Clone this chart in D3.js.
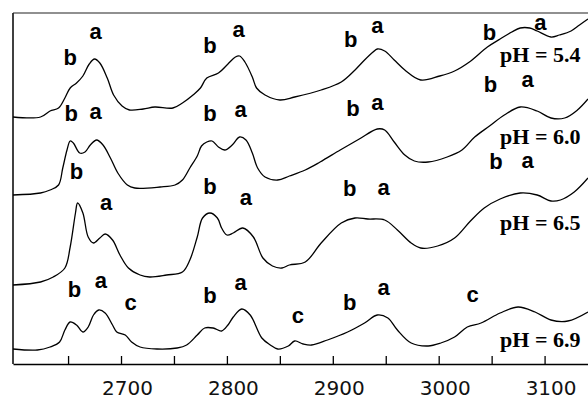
<!DOCTYPE html>
<html>
<head>
<meta charset="utf-8">
<script src="https://cdn.jsdelivr.net/npm/d3@7"></script>
<style>
  body { margin: 0; background: #fff; }
  .lbl { font-family: "Liberation Sans", Arial, sans-serif; font-weight: bold; font-size: 22px; }
  .ph { font-family: "Liberation Serif", "Times New Roman", serif; font-weight: bold; font-size: 22px; }
  .xaxis text { font-family: "DejaVu Sans", sans-serif; font-size: 20px; fill: #111; }
</style>
</head>
<body>
<div id="chart"></div>
<script>
var totWidth = 588;
var totHeight = 401;

//-- Spectra, [wavenumber, absorbance (offset)]
var pH54 = [[2598,2.47],[2624,2.47],[2633,2.53],[2641,2.56],[2647,2.66],[2652,2.76],[2658,2.81],[2664,2.88],
  [2670,3.00],[2675,3.05],[2680,3.01],[2687,2.86],[2693,2.69],[2701,2.58],[2708,2.54],[2721,2.55],[2732,2.57],
  [2749,2.56],[2758,2.61],[2768,2.69],[2775,2.76],[2781,2.86],[2792,2.91],[2801,3.00],[2808,3.07],[2812,3.08],
  [2817,3.02],[2824,2.87],[2828,2.76],[2836,2.69],[2850,2.64],[2864,2.67],[2889,2.74],[2908,2.82],[2921,2.94],
  [2930,3.04],[2938,3.12],[2942,3.15],[2949,3.13],[2958,3.04],[2968,2.94],[2983,2.84],[3001,2.88],[3015,2.93],
  [3029,3.02],[3046,3.17],[3058,3.25],[3069,3.32],[3077,3.36],[3086,3.36],[3093,3.33],[3106,3.27],[3114,3.29],
  [3125,3.33],[3133,3.39],[3141,3.45]];

var pH60 = [[2598,1.69],[2624,1.71],[2633,1.74],[2641,1.79],[2645,1.96],[2649,2.14],[2652,2.23],[2655,2.21],
  [2661,2.11],[2666,2.12],[2671,2.19],[2677,2.24],[2683,2.19],[2690,2.06],[2697,1.91],[2706,1.79],[2713,1.76],
  [2737,1.77],[2751,1.79],[2758,1.84],[2765,1.96],[2772,2.08],[2776,2.18],[2781,2.22],[2786,2.23],[2792,2.17],
  [2798,2.14],[2805,2.19],[2812,2.27],[2818,2.24],[2824,2.11],[2829,1.96],[2836,1.87],[2848,1.84],[2859,1.88],
  [2874,1.94],[2888,2.02],[2907,2.14],[2925,2.25],[2942,2.35],[2949,2.34],[2958,2.22],[2968,2.09],[2977,2.03],
  [2990,2.02],[3008,2.07],[3022,2.14],[3034,2.27],[3048,2.38],[3062,2.49],[3077,2.57],[3093,2.53],[3106,2.46],
  [3119,2.46],[3131,2.54],[3141,2.65]];

var pH65 = [[2598,0.79],[2624,0.82],[2636,0.87],[2647,0.96],[2652,1.17],[2657,1.51],[2659,1.61],[2664,1.51],
  [2669,1.27],[2674,1.21],[2680,1.26],[2685,1.30],[2692,1.24],[2699,1.09],[2707,0.96],[2718,0.89],[2727,0.87],
  [2743,0.89],[2758,0.92],[2765,1.04],[2772,1.27],[2777,1.46],[2784,1.51],[2791,1.46],[2795,1.36],[2800,1.29],
  [2806,1.31],[2815,1.36],[2825,1.27],[2834,1.06],[2843,0.98],[2852,0.96],[2859,0.99],[2874,1.02],[2889,1.21],
  [2908,1.41],[2921,1.46],[2933,1.45],[2949,1.44],[2961,1.34],[2974,1.21],[2983,1.16],[2999,1.18],[3015,1.26],
  [3030,1.43],[3043,1.56],[3058,1.65],[3077,1.71],[3093,1.69],[3106,1.63],[3115,1.64],[3128,1.72],[3141,1.86]];

var pH69 = [[2598,0.15],[2621,0.14],[2633,0.17],[2642,0.22],[2647,0.34],[2652,0.42],[2658,0.39],[2664,0.32],
  [2669,0.37],[2674,0.49],[2679,0.54],[2685,0.51],[2692,0.39],[2696,0.32],[2704,0.29],[2710,0.22],[2718,0.17],
  [2734,0.15],[2753,0.16],[2762,0.19],[2772,0.29],[2779,0.36],[2787,0.36],[2795,0.33],[2801,0.39],[2806,0.47],
  [2814,0.55],[2822,0.49],[2833,0.26],[2841,0.19],[2848,0.15],[2858,0.18],[2864,0.23],[2872,0.20],[2880,0.19],
  [2895,0.24],[2914,0.32],[2930,0.41],[2942,0.49],[2952,0.46],[2961,0.34],[2974,0.21],[2990,0.18],[3002,0.21],
  [3015,0.27],[3027,0.37],[3040,0.41],[3058,0.51],[3075,0.57],[3091,0.52],[3106,0.44],[3122,0.43],[3141,0.52]];

var spectra = [pH54, pH60, pH65, pH69];

//-- Band labels [text, wavenumber, absorbance]
var bandLabels = [
  ["b",2652,2.99],["a",2676,3.25],["b",2784,3.11],["a",2811,3.27],["b",2917,3.17],["a",2942,3.31],["b",3048,3.24],["a",3096,3.34],
  ["b",2653,2.43],["a",2676,2.45],["b",2784,2.43],["a",2813,2.47],["b",2919,2.48],["a",2942,2.54],["b",3049,2.72],["a",3084,2.77],
  ["b",2658,1.85],["a",2686,1.54],["b",2784,1.70],["a",2818,1.59],["b",2916,1.68],["a",2948,1.69],["b",3054,1.95],["a",3084,1.96],
  ["b",2656,0.67],["a",2681,0.76],["c",2709,0.54],["b",2784,0.61],["a",2813,0.74],["c",2867,0.41],["b",2916,0.54],["a",2948,0.69],["c",3032,0.62]
];

var phNames = ["pH = 5.4", "pH = 6.0", "pH = 6.5", "pH = 6.9"];
var phLevels = [3.02, 2.20, 1.34, 0.17];
var phStart = 3058;

var tickValues = [2650, 2700, 2750, 2800, 2850, 2900, 2950, 3000, 3050, 3100];
var tickLabels = [2700, 2800, 2900, 3000, 3100];

//-- Dimension & margin
var margin = {top: 13, right: 0, bottom: 37, left: 13},
    width = totWidth - margin.left - margin.right,
    height = totHeight - margin.top - margin.bottom;

var svg = d3.select("#chart")
  .append("svg")
    .attr("width", totWidth)
    .attr("height", totHeight)
  .append("g")
    .attr("transform", "translate(" + margin.left + "," + margin.top + ")");

var x = d3.scaleLinear()
  .domain([2598, 3141])
  .range([0, width]);

var y = d3.scaleLinear()
  .domain([0, 3.51])
  .range([height, 0]);

//-- Frame: left and top lines
svg.append("line")
  .attr("x1", 0).attr("x2", 0).attr("y1", 0).attr("y2", height)
  .attr("stroke", "#000").attr("stroke-width", 1.5);
svg.append("line")
  .attr("x1", 0).attr("x2", width).attr("y1", 0).attr("y2", 0)
  .attr("stroke", "#222").attr("stroke-width", 1.2);

//-- x-axis, ticks pointing inward
var xAxis = d3.axisBottom(x)
  .tickValues(tickValues)
  .tickSize(-8)
  .tickSizeOuter(0)
  .tickPadding(17)
  .tickFormat(function(d) { return tickLabels.indexOf(d) >= 0 ? d : ""; });

var gx = svg.append("g")
  .attr("class", "xaxis")
  .attr("transform", "translate(0," + height + ")")
  .call(xAxis);
gx.select(".domain").attr("stroke", "#000").attr("stroke-width", 1.5);
gx.selectAll(".tick line").attr("stroke", "#000").attr("stroke-width", 1.3);
gx.selectAll(".tick text").attr("dx", 6);

//-- Spectra
var line = d3.line()
  .x(function(d) { return x(d[0]); })
  .y(function(d) { return y(d[1]); })
  .curve(d3.curveCatmullRom.alpha(0.5));

svg.selectAll("path.spec")
  .data(spectra)
  .enter()
  .append("path")
    .attr("class", "spec")
    .attr("d", line)
    .attr("fill", "none")
    .attr("stroke", "#000")
    .attr("stroke-width", 1.3);

//-- Band labels
svg.selectAll("text.lbl")
  .data(bandLabels)
  .enter()
  .append("text")
    .attr("class", "lbl")
    .attr("x", function(d) { return x(d[1]); })
    .attr("y", function(d) { return y(d[2]); })
    .attr("text-anchor", "middle")
    .text(function(d) { return d[0]; });

//-- pH labels
svg.selectAll("text.ph")
  .data(phNames)
  .enter()
  .append("text")
    .attr("class", "ph")
    .attr("x", x(phStart))
    .attr("y", function(d, i) { return y(phLevels[i]); })
    .text(function(d) { return d; });
</script>
</body>
</html>
